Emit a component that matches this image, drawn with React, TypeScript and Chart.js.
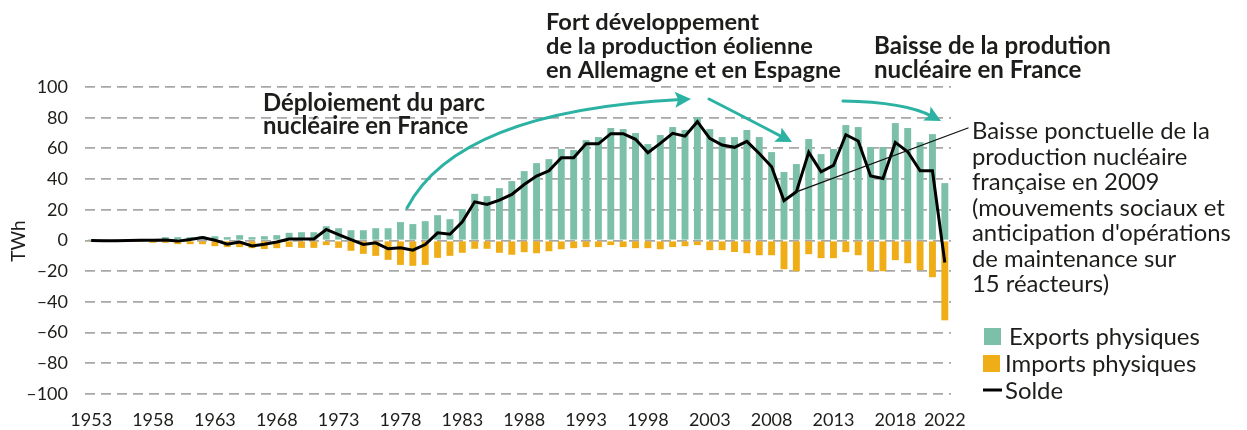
import React, { useEffect, useRef } from 'react';
import { Chart, registerables } from 'chart.js';

Chart.register(...registerables);

const years: string[] = [
  '1953','1954','1955','1956','1957','1958','1959','1960','1961','1962',
  '1963','1964','1965','1966','1967','1968','1969','1970','1971','1972',
  '1973','1974','1975','1976','1977','1978','1979','1980','1981','1982',
  '1983','1984','1985','1986','1987','1988','1989','1990','1991','1992',
  '1993','1994','1995','1996','1997','1998','1999','2000','2001','2002',
  '2003','2004','2005','2006','2007','2008','2009','2010','2011','2012',
  '2013','2014','2015','2016','2017','2018','2019','2020','2021','2022',
];

const xTickLabels: string[] = ['1953','1958','1963','1968','1973','1978','1983','1988','1993','1998','2003','2008','2013','2018','2022'];

const yTicks: number[] = [-100, -80, -60, -40, -20, 0, 20, 40, 60, 80, 100];

const exportsPhysiques: number[] = [
  0.3, 0.3, 0.4, 0.5, 0.8, 1.0, 2.2, 2.2, 2.2, 2.8,
  2.8, 2.2, 3.5, 2.2, 2.8, 3.5, 5.0, 5.4, 5.4, 9.3,
  8.0, 6.7, 6.7, 8.0, 8.0, 12.0, 10.7, 12.6, 16.5, 13.9,
  20.4, 30.4, 28.9, 34.1, 38.7, 45.2, 50.4, 53.0, 59.6, 59.0,
  65.4, 67.4, 73.3, 72.6, 70.0, 62.8, 68.7, 73.9, 72.0, 80.4,
  72.6, 67.4, 67.4, 72.0, 67.4, 57.6, 44.6, 49.8, 66.1, 56.3,
  59.6, 75.2, 73.9, 60.9, 60.9, 76.5, 73.3, 64.1, 69.3, 37.4,
];

const importsPhysiques: number[] = [
  -0.4, -0.5, -0.5, -0.6, -1.0, -1.5, -1.5, -2.4, -2.4, -2.4,
  -3.7, -4.3, -4.3, -5.0, -5.6, -5.0, -4.2, -4.8, -4.8, -3.0,
  -4.8, -6.7, -8.7, -10.0, -12.6, -15.9, -16.5, -15.9, -11.3, -10.0,
  -8.0, -5.4, -5.4, -8.0, -9.3, -7.6, -8.3, -7.0, -5.7, -5.0,
  -4.3, -4.3, -3.0, -4.3, -5.0, -5.0, -5.7, -4.3, -3.7, -3.0,
  -6.3, -6.3, -7.5, -8.3, -9.6, -9.6, -18.7, -20.0, -8.9, -11.5,
  -11.5, -7.6, -9.6, -20.0, -20.0, -12.8, -14.8, -19.3, -23.9, -52.0,
];

const solde: number[] = [
  0.0, -0.1, -0.1, 0.0, 0.1, 0.2, 0.4, -0.4, 0.6, 2.0,
  0.2, -2.4, -1.0, -3.5, -2.4, -1.0, 1.0, 1.0, 1.0, 7.2,
  3.8, 0.6, -2.6, -1.5, -5.4, -4.8, -6.3, -2.6, 5.0, 4.1,
  12.2, 25.2, 23.5, 26.3, 30.0, 36.5, 42.0, 45.4, 53.9, 53.9,
  63.0, 63.0, 69.6, 69.6, 65.9, 57.2, 63.3, 69.8, 68.0, 77.4,
  66.5, 62.2, 60.7, 64.6, 56.7, 48.0, 25.9, 31.7, 57.4, 44.8,
  48.9, 68.9, 64.8, 42.0, 40.4, 63.9, 57.8, 45.4, 45.4, -14.3,
];

const seriesNames: string[] = ['Exports physiques', 'Imports physiques', 'Solde'];

const annotationDeploiement: string[] = ['Déploiement du parc', 'nucléaire en France'];
const annotationEolien: string[] = ['Fort développement', 'de la production éolienne', 'en Allemagne et en Espagne'];
const annotationBaisse: string[] = ['Baisse de la prodution', 'nucléaire en France'];
const annotation2009: string[] = [
  'Baisse ponctuelle de la',
  'production nucléaire',
  'française en 2009',
  '(mouvements sociaux et',
  "anticipation d'opérations",
  'de maintenance sur',
  '15 réacteurs)',
];

const GREEN = '#7cc0aa';
const ORANGE = '#efae17';
const TEAL = '#2bb2a3';
const TEXT = '#1d1d1b';
const GRID = '#a8a8a8';
const FONT = 'Lato, "Open Sans", sans-serif';

function fitSize(ctx: CanvasRenderingContext2D, text: string, width: number, weight: string): number {
  ctx.font = `${weight} 20px ${FONT}`;
  const w = ctx.measureText(text).width;
  return (20 * width) / w;
}

function drawBlock(
  ctx: CanvasRenderingContext2D,
  lines: string[],
  x: number,
  firstBaseline: number,
  lineGap: number,
  widest: string,
  targetWidth: number,
  weight: string,
) {
  const size = fitSize(ctx, widest, targetWidth, weight);
  ctx.font = `${weight} ${size}px ${FONT}`;
  ctx.fillStyle = TEXT;
  ctx.textAlign = 'left';
  ctx.textBaseline = 'alphabetic';
  lines.forEach((l, i) => ctx.fillText(l, x, firstBaseline + i * lineGap));
}

function arrowHead(ctx: CanvasRenderingContext2D, tipX: number, tipY: number, angle: number, len: number, half: number) {
  ctx.save();
  ctx.translate(tipX, tipY);
  ctx.rotate(angle);
  ctx.beginPath();
  ctx.moveTo(0, 0);
  ctx.lineTo(-len, -half);
  ctx.lineTo(-len * 0.8, 0);
  ctx.lineTo(-len, half);
  ctx.closePath();
  ctx.fill();
  ctx.restore();
}

function curvedArrow(ctx: CanvasRenderingContext2D, x0: number, y0: number, cx: number, cy: number, x1: number, y1: number) {
  const ang = Math.atan2(y1 - cy, x1 - cx);
  const ex = x1 - Math.cos(ang) * 10;
  const ey = y1 - Math.sin(ang) * 10;
  ctx.beginPath();
  ctx.moveTo(x0, y0);
  ctx.quadraticCurveTo(cx, cy, ex, ey);
  ctx.stroke();
  arrowHead(ctx, x1, y1, ang, 16, 8);
}

const annotationsPlugin = {
  id: 'annotations',
  afterDraw(chart: any) {
    const ctx: CanvasRenderingContext2D = chart.ctx;
    const xs = chart.scales.x;
    const ys = chart.scales.y;
    ctx.save();

    // Y axis title
    ctx.save();
    ctx.translate(19, 241);
    ctx.rotate(-Math.PI / 2);
    ctx.font = `19px ${FONT}`;
    ctx.fillStyle = TEXT;
    ctx.textAlign = 'center';
    ctx.textBaseline = 'middle';
    ctx.fillText('TWh', 0, 0);
    ctx.restore();

    // Text annotations
    drawBlock(ctx, annotationDeploiement, 263, 111, 22.5, annotationDeploiement[0], 222, 'bold');
    drawBlock(ctx, annotationEolien, 546, 30, 23.8, annotationEolien[2], 295, 'bold');
    drawBlock(ctx, annotationBaisse, 874, 54, 23.8, annotationBaisse[0], 237, 'bold');
    drawBlock(ctx, annotation2009, 972, 139, 25.5, annotation2009[4], 259, 'normal');

    // Arrows
    ctx.strokeStyle = TEAL;
    ctx.fillStyle = TEAL;
    ctx.lineWidth = 3;
    ctx.lineCap = 'round';
    curvedArrow(ctx, 407, 208, 458, 111, 691, 99);
    curvedArrow(ctx, 709, 99, 750, 120, 792, 142);
    curvedArrow(ctx, 843, 101, 905, 102, 941, 121);

    // Connector for 2009
    const i2010 = years.indexOf('2010');
    const px = xs.getPixelForValue(i2010);
    const py = ys.getPixelForValue(solde[i2010]);
    ctx.strokeStyle = '#111';
    ctx.lineWidth = 1.3;
    ctx.beginPath();
    ctx.moveTo(px, py);
    ctx.lineTo(968, 128);
    ctx.stroke();

    // Legend
    const lsize = fitSize(ctx, seriesNames[0], 191, 'normal');
    ctx.font = `${lsize}px ${FONT}`;
    ctx.textBaseline = 'middle';
    ctx.textAlign = 'left';
    ctx.fillStyle = GREEN;
    ctx.fillRect(984, 328, 17, 17);
    ctx.fillStyle = ORANGE;
    ctx.fillRect(983, 355, 17, 17);
    ctx.strokeStyle = '#000';
    ctx.lineWidth = 3;
    ctx.lineCap = 'butt';
    ctx.beginPath();
    ctx.moveTo(983, 390);
    ctx.lineTo(1002, 390);
    ctx.stroke();
    ctx.fillStyle = TEXT;
    ctx.fillText(seriesNames[0], 1009, 337);
    ctx.fillText(seriesNames[1], 1005, 364);
    ctx.fillText(seriesNames[2], 1005, 391);

    ctx.restore();
  },
};

export default function App() {
  const canvasRef = useRef<HTMLCanvasElement | null>(null);

  useEffect(() => {
    const canvas = canvasRef.current;
    if (!canvas) return;
    const chart = new Chart(canvas, {
      type: 'bar',
      data: {
        labels: years,
        datasets: [
          {
            type: 'line',
            label: seriesNames[2],
            data: solde,
            borderColor: '#000',
            borderWidth: 3,
            pointRadius: 0,
            tension: 0,
            order: 0,
          } as any,
          {
            type: 'bar',
            label: seriesNames[0],
            data: exportsPhysiques,
            backgroundColor: GREEN,
            barPercentage: 0.56,
            categoryPercentage: 1,
            grouped: false,
            order: 2,
          },
          {
            type: 'bar',
            label: seriesNames[1],
            data: importsPhysiques,
            backgroundColor: ORANGE,
            barPercentage: 0.56,
            categoryPercentage: 1,
            grouped: false,
            order: 2,
          },
        ],
      },
      options: {
        animation: false,
        responsive: false,
        maintainAspectRatio: false,
        layout: { padding: { left: 0, right: 296, top: 87, bottom: 0 } },
        plugins: {
          legend: { display: false },
          tooltip: { enabled: false },
        },
        scales: {
          x: {
            grid: { display: false, drawTicks: false },
            border: { display: false },
            ticks: {
              autoSkip: false,
              maxRotation: 0,
              minRotation: 0,
              padding: 15,
              color: TEXT,
              font: { family: FONT, size: 18 },
              callback: (_v: any, i: number) => (xTickLabels.includes(years[i]) ? years[i] : ''),
            },
            afterFit: (s: any) => {
              s.height = 36;
            },
          },
          y: {
            min: yTicks[0],
            max: yTicks[yTicks.length - 1],
            afterBuildTicks: (s: any) => {
              s.ticks = yTicks.map((v) => ({ value: v }));
            },
            ticks: {
              padding: 17,
              color: TEXT,
              font: { family: FONT, size: 18 },
              callback: (v: any) => String(v).replace('-', '–'),
            },
            grid: { color: GRID, lineWidth: 1.8, drawTicks: false },
            border: { display: false, dash: [10, 6] },
            afterFit: (s: any) => {
              s.width = 85;
            },
          },
        },
      },
      plugins: [annotationsPlugin],
    });
    return () => chart.destroy();
  }, []);

  return (
    <div style={{ position: 'absolute', left: 0, top: 0, width: 1247, height: 430, background: '#fff' }}>
      <canvas ref={canvasRef} width={1247} height={430} style={{ width: 1247, height: 430 }} />
    </div>
  );
}
